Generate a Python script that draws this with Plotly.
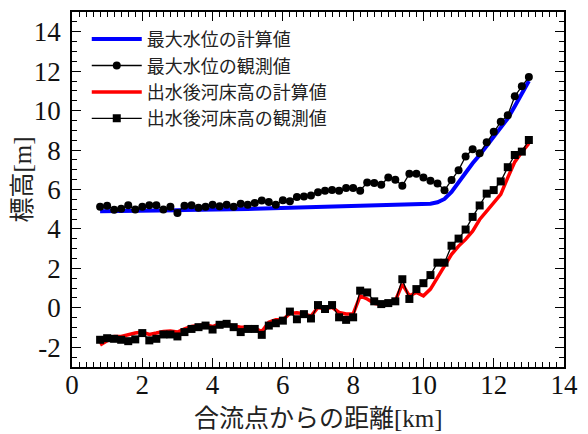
import plotly.graph_objects as go

# Distance from the confluence [km], 0.2 km spacing
dist_km = [round(0.8 + 0.2 * i, 1) for i in range(62)]

# Computed maximum water level [m]
wl_calc = [4.90, 4.90, 4.91, 4.91, 4.92, 4.92, 4.93, 4.93, 4.94, 4.94,
           4.95, 4.95, 4.96, 4.96, 4.97, 4.97, 4.98, 4.98, 4.99, 4.99,
           5.00, 5.01, 5.02, 5.03, 5.04, 5.05, 5.06, 5.07, 5.08, 5.09,
           5.10, 5.10, 5.11, 5.12, 5.13, 5.14, 5.15, 5.16, 5.17, 5.18,
           5.19, 5.20, 5.21, 5.22, 5.23, 5.25, 5.26, 5.28, 5.35, 5.52,
           5.88, 6.38, 6.90, 7.33, 7.75, 8.20, 8.66, 9.12, 9.60, 10.22,
           10.86, 11.50]

# Observed maximum water level [m]
wl_obs = [5.12, 5.18, 4.97, 5.03, 5.20, 4.98, 5.12, 5.20, 5.20, 4.98,
          5.12, 4.81, 5.18, 5.20, 5.07, 5.12, 5.23, 5.15, 5.23, 5.12,
          5.28, 5.23, 5.32, 5.44, 5.37, 5.23, 5.45, 5.40, 5.62, 5.65,
          5.70, 5.86, 5.94, 5.97, 5.94, 6.07, 6.07, 5.94, 6.36, 6.33,
          6.24, 6.61, 6.49, 6.19, 6.80, 6.80, 6.61, 6.44, 6.31, 5.96,
          6.48, 6.98, 7.67, 8.04, 7.84, 8.39, 8.93, 9.43, 9.77, 10.73,
          11.23, 11.70]

# Computed riverbed elevation after the flood [m]
bed_calc = [-1.88, -1.65, -1.45, -1.45, -1.35, -1.28, -1.23, -1.35, -1.28, -1.20,
            -1.18, -1.23, -1.07, -0.95, -0.90, -0.86, -0.95, -0.81, -0.84, -0.93,
            -0.98, -0.98, -1.03, -1.20, -0.73, -0.61, -0.61, -0.28, -0.25, -0.30,
            -0.42, 0.02, -0.06, 0.03, -0.23, -0.31, -0.31, 0.61, 0.45, 0.23,
            0.16, 0.23, 0.36, 1.20, 0.61, 0.78, 0.61, 0.95, 1.54, 2.13,
            2.71, 3.13, 3.47, 3.89, 4.48, 4.90, 5.30, 5.75, 6.60, 7.40,
            7.90, 8.34]

# Observed riverbed elevation after the flood [m]
bed_obs = [-1.62, -1.54, -1.57, -1.62, -1.69, -1.60, -1.28, -1.65, -1.57, -1.35,
           -1.35, -1.45, -1.23, -1.07, -0.98, -0.90, -1.10, -0.86, -0.81, -0.98,
           -1.23, -1.07, -1.07, -1.37, -0.90, -0.78, -0.65, -0.19, -0.58, -0.32,
           -0.54, 0.14, -0.06, 0.14, -0.48, -0.61, -0.48, 0.87, 0.78, 0.33,
           0.19, 0.24, 0.33, 1.45, 0.45, 0.95, 1.25, 1.66, 2.29, 2.29,
           3.15, 3.51, 3.97, 4.61, 5.19, 5.79, 5.97, 6.41, 7.13, 7.75,
           7.92, 8.51]

x_ticks = [0, 2, 4, 6, 8, 10, 12, 14]
y_ticks = [-2, 0, 2, 4, 6, 8, 10, 12, 14]
y_tick_text = ["-2", "0", "2", "4", "6", "8", "10", "12", "14"]

serif = "Liberation Serif"
cjk = "Liberation Serif, Noto Sans CJK JP"

fig = go.Figure()
fig.add_trace(go.Scatter(x=dist_km, y=wl_calc, mode="lines",
                         line=dict(color="#0000ff", width=4),
                         name="最大水位の計算値"))
fig.add_trace(go.Scatter(x=dist_km, y=wl_obs, mode="lines+markers",
                         line=dict(color="black", width=1.3),
                         marker=dict(symbol="circle", size=8, color="black"),
                         name="最大水位の観測値"))
fig.add_trace(go.Scatter(x=dist_km, y=bed_calc, mode="lines",
                         line=dict(color="#ff0000", width=3.5),
                         name="出水後河床高の計算値"))
fig.add_trace(go.Scatter(x=dist_km, y=bed_obs, mode="lines+markers",
                         line=dict(color="black", width=1.3),
                         marker=dict(symbol="square", size=8, color="black"),
                         name="出水後河床高の観測値"))

axis_common = dict(
    showline=True, linecolor="black", linewidth=1.5, mirror="allticks",
    ticks="inside", ticklen=9, tickwidth=1.3, tickcolor="black",
    showgrid=False, zeroline=False,
    tickfont=dict(family=serif, size=27, color="#111"),
)

fig.update_xaxes(range=[0, 14], tickvals=x_ticks,
                 minor=dict(dtick=0.2, ticks="inside", ticklen=5,
                            tickwidth=1, tickcolor="black"),
                 ticklabelstandoff=-7,
                 **axis_common)
fig.update_yaxes(range=[-3, 15], tickvals=y_ticks, ticktext=y_tick_text,
                 minor=dict(dtick=0.5, ticks="inside", ticklen=5,
                            tickwidth=1, tickcolor="black"),
                 ticklabelstandoff=4,
                 **axis_common)

# Axis titles placed as annotations
fig.add_annotation(text="合流点からの距離[km]", xref="paper", yref="paper",
                   x=0.5, y=0, yshift=-51, xanchor="center", yanchor="middle",
                   showarrow=False,
                   font=dict(family=cjk, size=25, color="#222"))
fig.add_annotation(text="標高[m]", xref="paper", yref="paper",
                   x=0, y=0.5, xshift=-50, yshift=10, textangle=-90,
                   xanchor="center", yanchor="middle", showarrow=False,
                   font=dict(family=cjk, size=25, color="#222"))

fig.update_layout(
    width=588, height=434,
    margin=dict(l=72, r=15, t=10, b=67),
    plot_bgcolor="white", paper_bgcolor="white",
    legend=dict(x=0.03, y=0.975, xanchor="left", yanchor="top",
                bgcolor="rgba(0,0,0,0)", borderwidth=0,
                font=dict(family=cjk, size=18, color="#222"),
                tracegroupgap=0, itemwidth=50),
    showlegend=True,
)

fig.write_html("out.html")
